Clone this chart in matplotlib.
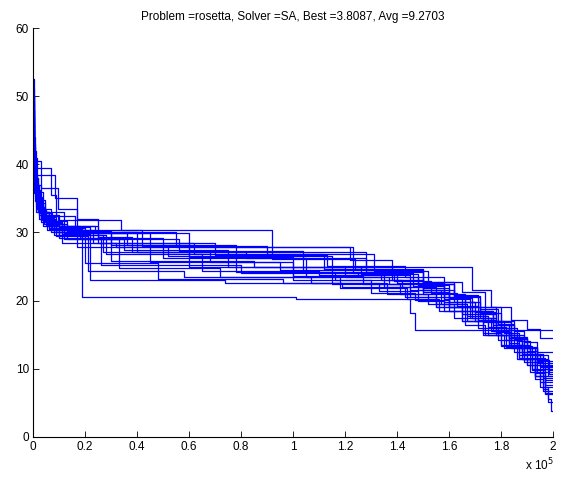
import matplotlib
matplotlib.use("Agg")
import matplotlib.pyplot as plt
from matplotlib.ticker import FuncFormatter

plt.rcParams['font.family'] = ['Liberation Sans', 'DejaVu Sans']

# best-so-far energy of each SA run
# evaluations in thousands, energy at each step change
runs_x = [
    [0, 0.4, 1.5, 4, 12, 45, 95, 140, 158, 166, 172, 178, 183, 187, 190, 193, 196, 198, 199.3, 200],
    [0, 0.5, 2, 6, 19, 101, 145, 147, 200],
    [0, 0.3, 1, 3, 9, 30, 60, 169, 176, 184, 190, 195, 200],
    [0, 0.6, 8.5, 17, 25, 38, 82, 128, 150, 165, 174, 180, 185, 189, 194, 200],
    [0, 0.2, 1, 3, 7, 25, 70, 113, 143, 158, 166, 172, 178, 184, 189, 194, 200],
    [0, 0.4, 7, 9, 10, 22, 55, 122, 138, 150, 162, 170, 177, 183, 188, 193, 198, 200],
    [0, 0.5, 2, 6, 13, 35, 75, 120, 148, 158, 166, 173, 180, 186, 191, 196, 200],
    [0, 0.3, 1, 3, 8, 28, 65, 110, 135, 150, 160, 168, 176, 183, 189, 195, 200],
    [0, 0.4, 1.6, 5, 11, 32, 123, 146, 158, 168, 177, 184, 190, 195, 200],
    [0, 0.5, 1.8, 4, 9, 40, 128, 150, 162, 172, 180, 186, 191, 196, 200],
    [0, 0.3, 3, 9.5, 17, 36, 78, 116, 142, 155, 165, 174, 181, 187, 192, 197, 200],
    [0, 0.6, 2.2, 6, 18, 50, 105, 137, 150, 160, 170, 178, 185, 190, 194, 198, 200],
    [0, 0.2, 0.8, 2.5, 6, 20, 48, 96, 133, 148, 158, 167, 175, 182, 188, 194, 200],
    [0, 0.5, 1.5, 4.5, 16, 42, 90, 131, 152, 162, 171, 178, 184, 189, 194, 198.5, 200],
    [0, 0.3, 1.1, 3, 8.5, 24, 60, 100, 127, 145, 155, 165, 173, 180, 187, 193, 200],
    [0, 0.4, 1.3, 3.8, 7, 17, 52, 115, 141, 155, 165, 173, 180, 186, 191, 196, 200],
    [0, 0.7, 2.5, 5.5, 10, 26, 80, 125, 145, 157, 167, 175, 182, 188, 193, 197, 200],
    [0, 0.3, 1.2, 3.2, 9, 21, 58, 107, 136, 152, 162, 171, 179, 185, 190, 195, 200],
    [0, 0.5, 1.9, 4.2, 12, 33, 72, 118, 144, 156, 166, 174, 181, 187, 192, 197, 200],
    [0, 0.2, 0.9, 2.8, 7.5, 23, 62, 112, 139, 153, 163, 171, 178, 184, 189, 193, 197, 200],
    [0, 0.4, 1.7, 4.8, 13, 30, 85, 126, 148, 160, 169, 177, 183, 188, 192, 196, 200],
    [0, 0.6, 2, 5, 10, 27, 68, 100, 130, 147, 160, 170, 178, 184, 189, 193, 197, 200],
    [0, 0.3, 1.3, 3.6, 8, 19, 56, 104, 134, 150, 160, 169, 177, 183, 188, 193, 197, 200],
    [0, 0.5, 1.6, 4.4, 11, 22, 74, 119, 143, 155, 165, 173, 180, 186, 191, 195, 198, 200],
    [0, 0.4, 1.4, 3.9, 9.5, 34, 92, 124, 150, 162, 172, 179, 185, 190, 194, 198, 200],
]
runs_y = [
    [50, 41, 36, 33, 29.9, 25.7, 24.5, 22.6, 20.5, 19.0, 17.5, 16.0, 13.8, 12.0, 10.5, 8.5, 7.0, 5.5, 3.81, 3.81],
    [45, 38, 33, 30.5, 20.5, 20.2, 18.2, 15.7, 15.6],
    [48, 40, 35, 32, 30.1, 28.2, 25.0, 21.5, 19.0, 17.2, 15.8, 14.5, 14.5],
    [44, 38.5, 35, 32, 29.3, 27.1, 26.3, 24.2, 22.8, 21.3, 19.0, 17.0, 15.5, 14.0, 12.5, 12.5],
    [52.5, 42, 37, 33.5, 31, 28.5, 26.7, 25.1, 23.5, 21.0, 19.8, 18.0, 16.5, 14.6, 13.0, 11.2, 11.2],
    [46, 39.5, 35.5, 32.5, 30.8, 30.1, 27.9, 26.0, 23.0, 21.5, 19.8, 18.0, 16.0, 14.5, 13.0, 12.0, 10.9, 10.9],
    [43, 37, 33, 31.2, 29.0, 27.4, 24.9, 23.5, 21.5, 19.8, 18.5, 17.0, 15.0, 13.5, 12.0, 10.6, 10.6],
    [49, 39, 34.5, 32, 29.6, 26.9, 24.3, 23.8, 22.0, 21.0, 19.0, 17.5, 15.5, 13.5, 12.0, 10.4, 10.4],
    [41, 36, 33.5, 31.4, 28.5, 27.9, 24.0, 22.1, 20.3, 18.5, 16.8, 14.5, 12.2, 10.2, 10.2],
    [47, 38, 34, 32.2, 30.1, 27.1, 24.5, 22.5, 20.6, 18.2, 16.0, 14.1, 12.2, 10.0, 10.0],
    [44, 40.5, 36.5, 33.5, 29.9, 28.2, 24.2, 23.0, 22.0, 20.5, 19.0, 17.0, 15.3, 13.4, 11.6, 9.9, 9.9],
    [39, 35, 32.6, 30.9, 29.2, 26.3, 23.4, 22.5, 21.9, 19.8, 18.3, 16.4, 14.6, 13.0, 11.4, 9.8, 9.8],
    [51, 43, 37, 33, 30.6, 25.5, 23.2, 22.6, 21.4, 20.0, 18.5, 17.0, 15.0, 13.2, 11.5, 9.6, 9.6],
    [45, 38.5, 34.8, 32.4, 30.3, 28.0, 26.9, 24.4, 22.7, 20.9, 19.0, 17.0, 15.0, 13.2, 11.3, 9.3, 9.3],
    [42, 36.5, 33.8, 31.6, 30.9, 29.9, 26.4, 23.6, 22.5, 20.5, 19.0, 17.0, 15.2, 13.5, 11.6, 9.0, 9.0],
    [40, 35.8, 33.0, 31.0, 30.0, 27.8, 26.6, 22.4, 21.0, 19.5, 18.0, 16.8, 15.0, 13.0, 11.0, 8.7, 8.7],
    [38, 34.6, 32.0, 30.4, 29.2, 25.2, 24.0, 23.8, 21.6, 19.5, 17.8, 16.2, 14.3, 12.5, 10.6, 8.4, 8.4],
    [47, 38.8, 34.9, 31.9, 29.5, 24.3, 23.5, 22.6, 21.0, 19.5, 17.5, 16.0, 14.2, 12.5, 10.5, 8.0, 8.0],
    [43, 37.2, 33.7, 31.3, 29.0, 24.8, 23.5, 21.8, 20.2, 18.5, 16.5, 15.0, 13.0, 11.5, 9.8, 7.6, 7.6],
    [50, 42.5, 36.2, 32.8, 30.3, 28.4, 26.8, 24.6, 22.9, 21.1, 19.2, 17.2, 15.4, 13.4, 11.5, 9.4, 7.3, 7.3],
    [44, 38, 34.4, 31.7, 30.2, 25.8, 25.0, 23.9, 22.3, 20.4, 18.5, 16.4, 14.2, 12.2, 10.0, 6.8, 6.8],
    [41, 36, 33.2, 31.1, 29.7, 27.2, 25.6, 23.0, 21.1, 20.1, 18.5, 17.0, 15.0, 13.0, 11.0, 9.0, 6.5, 6.5],
    [48, 39.5, 35.2, 32.1, 30.5, 29.0, 27.3, 24.2, 23.0, 21.2, 19.0, 17.5, 15.5, 13.5, 11.5, 9.0, 6.3, 6.3],
    [42, 36.8, 33.4, 31.5, 29.8, 23.0, 22.6, 22.0, 20.5, 19.0, 17.0, 15.0, 13.3, 11.4, 9.5, 7.4, 5.2, 5.2],
    [46, 37.8, 34.0, 32.6, 31.8, 30.4, 26.1, 24.6, 22.5, 20.7, 18.8, 16.6, 14.4, 12.6, 10.8, 8.9, 8.9],
]

problem = "rosetta"
solver = "SA"
best = 3.8087
avg = 9.2703

fig = plt.figure(figsize=(5.64, 4.82), dpi=100)
ax = fig.add_axes([0.0585, 0.0934, 0.922, 0.8485])

for xs, ys in zip(runs_x, runs_y):
    ax.plot([v * 1000 for v in xs], ys, drawstyle='steps-post', color='#0000ff', lw=0.9)

ax.set_xlim(0, 200000)
ax.set_ylim(0, 60)
ax.set_xticks([i * 20000 for i in range(11)])
ax.set_yticks(range(0, 61, 10))
ax.xaxis.set_major_formatter(FuncFormatter(lambda v, p: ('%g' % (v / 1e5))))
ax.spines['top'].set_visible(False)
ax.spines['right'].set_visible(False)
for s in ax.spines.values():
    s.set_linewidth(0.8)
ax.tick_params(direction='in', length=4, width=0.6, labelsize=8.5, pad=3)
fig.text(0.982, 0.035, r'x 10$^5$', ha='right', va='center', fontsize=8.5)

ax.set_title('Problem =%s, Solver =%s, Best =%.4f, Avg =%.4f' % (problem, solver, best, avg),
             fontsize=8.5, pad=6)

fig.savefig('out.png', dpi=100)
